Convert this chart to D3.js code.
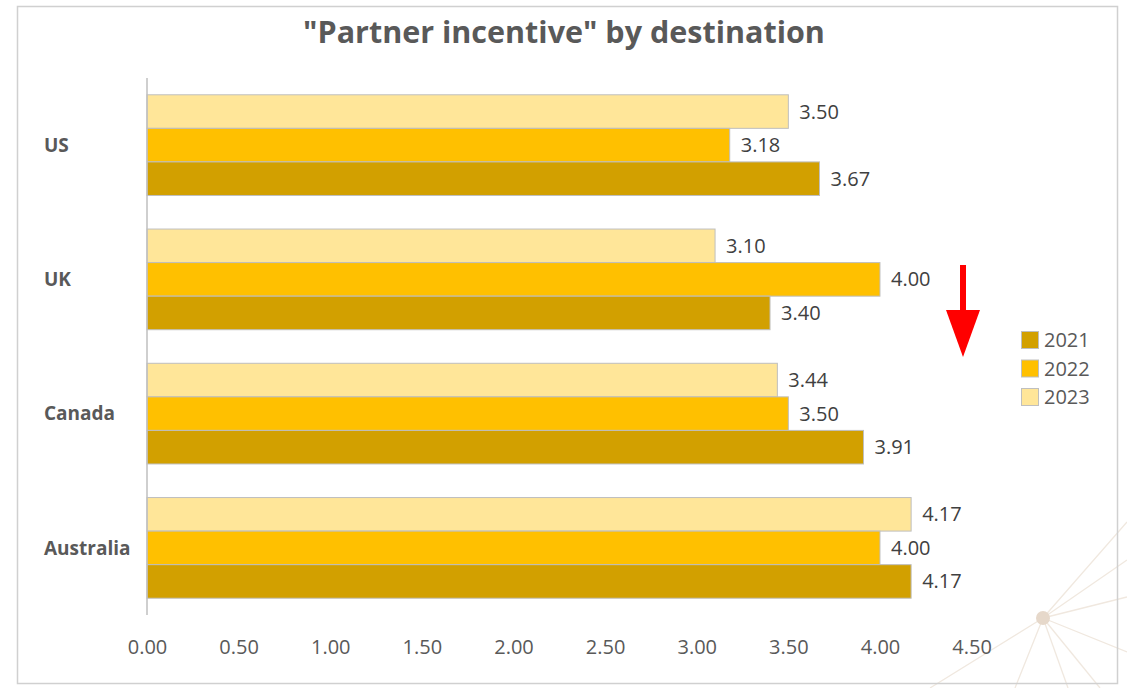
<!DOCTYPE html>
<html>
<head>
<meta charset="utf-8">
<script src="https://cdn.jsdelivr.net/npm/d3@7"></script>
<style>
  html, body { margin: 0; padding: 0; background: #fff; }
  svg { display: block; font-family: "Open Sans", "Noto Sans", sans-serif; }
</style>
</head>
<body>
<svg id="chart" width="1127" height="688"></svg>
<script>
// Survey scores for "Partner incentive", per destination and year
const destinations = ["US", "UK", "Canada", "Australia"];
const years = ["2023", "2022", "2021"];          // top-to-bottom order inside each group
const legendYears = ["2021", "2022", "2023"];
const values2021 = [3.67, 3.40, 3.91, 4.17];
const values2022 = [3.18, 4.00, 3.50, 4.00];
const values2023 = [3.50, 3.10, 3.44, 4.17];
const xTicks = [0, 0.5, 1, 1.5, 2, 2.5, 3, 3.5, 4, 4.5];
const yearColors = { "2021": "#D2A000", "2022": "#FFC000", "2023": "#FFE699" };

const seriesByYear = { "2021": values2021, "2022": values2022, "2023": values2023 };
const rows = destinations.flatMap((d, i) =>
  years.map(y => ({ destination: d, year: y, value: seriesByYear[y][i] })));

const svg = d3.select("#chart");
const FONT = "'Open Sans', 'Noto Sans', sans-serif";

// background sunburst ornament in the lower-right corner
const deco = svg.append("g");
const cx = 1043, cy = 618;
const rayEnds = [[1127, 522], [1127, 597], [1127, 652], [1100, 688], [1068, 688], [1015, 688], [930, 688], [1127, 560]];
rayEnds.forEach(([ex, ey]) => {
  deco.append("line").attr("x1", cx).attr("y1", cy).attr("x2", ex).attr("y2", ey)
    .attr("stroke", "#F0E8DF").attr("stroke-width", 1.3);
});
deco.append("circle").attr("cx", cx).attr("cy", cy).attr("r", 7).attr("fill", "#E6D8CA");

// chart frame
svg.append("rect").attr("x", 17.5).attr("y", 6.5).attr("width", 1100).attr("height", 677)
  .attr("fill", "none").attr("stroke", "#D0D0D0").attr("stroke-width", 1.5);

// title
svg.append("text").attr("x", 564).attr("y", 43).attr("text-anchor", "middle")
  .attr("font-size", 30.5).attr("font-weight", "bold").attr("fill", "#595959")
  .text("\"Partner incentive\" by destination");

// scales
const x = d3.scaleLinear().domain([0, 4.5]).range([147, 971.6]);
const yGroup = d3.scaleBand().domain(destinations).range([78, 615])
  .paddingInner(0.25).paddingOuter(0.125);
const yBar = d3.scaleBand().domain(years).range([0, yGroup.bandwidth()]);

// bars
svg.append("g").selectAll("rect").data(rows).join("rect")
  .attr("x", x(0))
  .attr("y", d => yGroup(d.destination) + yBar(d.year))
  .attr("width", d => x(d.value) - x(0))
  .attr("height", yBar.bandwidth())
  .attr("fill", d => yearColors[d.year])
  .attr("stroke", "#BFBFBF").attr("stroke-width", 1);

// value labels
svg.append("g").selectAll("text").data(rows).join("text")
  .attr("x", d => x(d.value) + 11)
  .attr("y", d => yGroup(d.destination) + yBar(d.year) + yBar.bandwidth() / 2)
  .attr("dy", "0.35em")
  .attr("font-size", 20).attr("fill", "#404040")
  .text(d => d.value.toFixed(2));

// vertical category axis line
svg.append("line").attr("x1", 147).attr("x2", 147).attr("y1", 78).attr("y2", 615)
  .attr("stroke", "#BFBFBF").attr("stroke-width", 1.5);

// category labels
svg.append("g").selectAll("text").data(destinations).join("text")
  .attr("x", 44)
  .attr("y", d => yGroup(d) + yGroup.bandwidth() / 2)
  .attr("dy", "0.35em")
  .attr("font-size", 19).attr("font-weight", "bold").attr("fill", "#595959")
  .text(d => d);

// value axis labels (no axis line or ticks drawn)
const xAxis = d3.axisBottom(x).tickValues(xTicks).tickFormat(d3.format(".2f")).tickSize(0).tickPadding(0);
const gx = svg.append("g").attr("transform", "translate(0,647)").call(xAxis);
gx.select(".domain").remove();
gx.selectAll("text").attr("font-size", 20).attr("fill", "#595959")
  .attr("font-family", FONT)
  .attr("dy", "0.35em").attr("y", 0);

// legend
const legend = svg.append("g");
legendYears.forEach((yr, i) => {
  const gy = 331 + i * 28.5;
  legend.append("rect").attr("x", 1021.5).attr("y", gy + 0.5).attr("width", 17).attr("height", 17)
    .attr("fill", yearColors[yr]).attr("stroke", "#BFBFBF").attr("stroke-width", 1);
  legend.append("text").attr("x", 1044).attr("y", gy + 9).attr("dy", "0.35em")
    .attr("font-size", 20).attr("fill", "#595959").text(yr);
});

// red downward arrow
svg.append("line").attr("x1", 963).attr("x2", 963).attr("y1", 265).attr("y2", 312)
  .attr("stroke", "#FF0000").attr("stroke-width", 6);
svg.append("path").attr("d", "M946,310 L980,310 L963,357 Z").attr("fill", "#FF0000");
</script>
</body>
</html>
